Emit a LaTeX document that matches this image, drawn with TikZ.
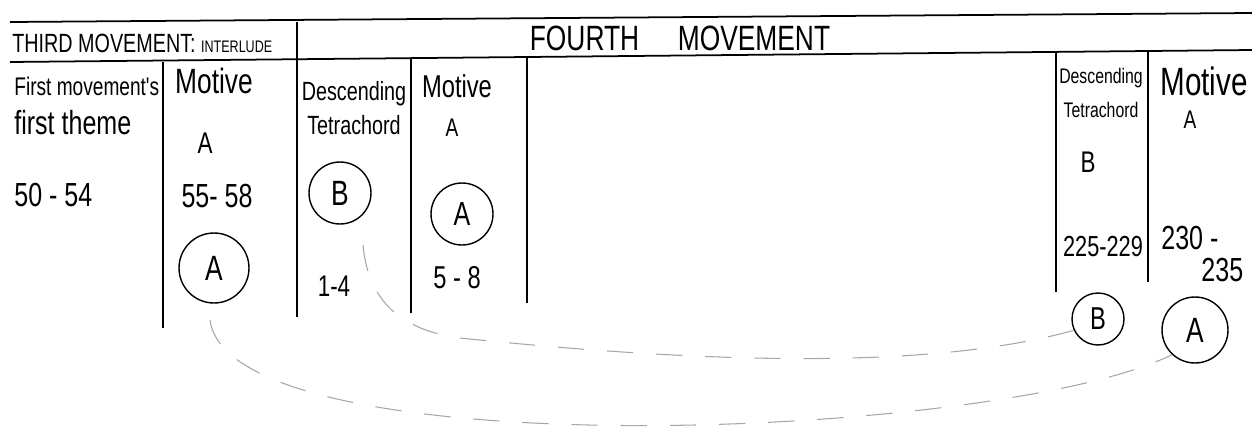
\documentclass[tikz,border=0pt]{standalone}
\usepackage{fontspec}
\newfontfamily\handfont[FakeStretch=0.75]{Liberation Sans}

\begin{document}
\begin{tikzpicture}[
    x=0.02cm, y=-0.02cm,
    rule/.style={
        line width=1pt
      },
    fs/.style={
        font=\handfont\fontsize{#1}{#1}\selectfont
      },
    note/.style={
        inner sep=0pt,
        align=center
      },
    ring/.style={
        draw,
        circle,
        line width=0.8pt,
        inner sep=0pt
      },
    link/.style={
        draw=gray!70,
        line width=0.6pt,
        dash pattern=on 15pt off 13pt
      }
  ]
  \useasboundingbox (0,0) rectangle (1252,433);

  % table rules
  \draw[rule] (10,22) -- (1252,13);
  \draw[rule] (10,62) -- (1252,50);
  \foreach \x/\top/\bot in {163/62/328, 297/22/317, 411/58/313, 527/57/303, 1056/51/292, 1148/50/282}
    \draw[rule] (\x,\top) -- (\x,\bot);

  % headers
  \node[note, fs=15, anchor=west] (third) at (12,43)
  {THIRD MOVEMENT: {\fontsize{9.5}{9.5}\selectfont INTERLUDE}};
  \node[note, fs=20] (fourth) at (680,38)
  {FOURTH\hspace{1.1em}MOVEMENT};

  % first movement's theme
  \node[note, fs=14.5, align=left, anchor=west] (theme) at (14,106)
  {First movement's\\[8pt]{\fontsize{19}{19}\selectfont first theme}};
  \node[note, fs=19, anchor=west] (bars1) at (14,195) {50 - 54};

  % motive A (third movement)
  \node[note, fs=20] (motive1) at (214,81) {Motive};
  \node[note, fs=17] (letter1) at (205,143) {A};
  \node[note, fs=19] (bars2) at (217,196) {55- 58};
  \node[ring, minimum size=1.4cm, fs=20] (a2) at (214,268) {A};

  % descending tetrachord (fourth movement, opening)
  \node[note, fs=15] (desc1) at (354,108)
  {Descending\\[4pt]Tetrachord};
  \node[ring, minimum size=1.24cm, fs=20] (b3) at (340,193) {B};
  \node[note, fs=17] (bars3) at (334,286) {1-4};

  % motive A (fourth movement, opening)
  \node[note, fs=18] (motive2) at (457,86) {Motive};
  \node[note, fs=14.5] (letter2) at (452,128) {A};
  \node[ring, minimum size=1.24cm, fs=19] (a4) at (462,214) {A};
  \node[note, fs=18] (bars4) at (457,278) {5 - 8};

  % descending tetrachord (fourth movement, end)
  \node[note, fs=12] (desc2) at (1101,93)
  {Descending\\[7pt]Tetrachord};
  \node[note, fs=17] (letter3) at (1088,162) {B};
  \node[note, fs=16.5] (bars5) at (1103,247) {225-229};

  % motive A (fourth movement, end)
  \node[note, fs=22.5] (motive3) at (1204,81) {Motive};
  \node[note, fs=14.5] (letter4) at (1190,120) {A};
  \node[note, fs=19, align=left, anchor=west] (bars6) at (1161,254)
  {230 -\\[-1pt]\hspace{1.2em}235};

  \node[ring, minimum size=1.04cm, fs=18] (b5) at (1098,319) {B};
  \node[ring, minimum size=1.32cm, fs=20] (a6) at (1195,330) {A};

  % dashed links
  \coordinate (tailB) at (363,245);
  \coordinate (tailA) at (210,320);
  \draw[link] (tailB) .. controls (368,300) and (400,330) .. (460,338)
    .. controls (750,368) and (950,365) .. (b5.205);
  \draw[link] (tailA) .. controls (230,470) and (1000,440) .. (a6.227);
\end{tikzpicture}
\end{document}
